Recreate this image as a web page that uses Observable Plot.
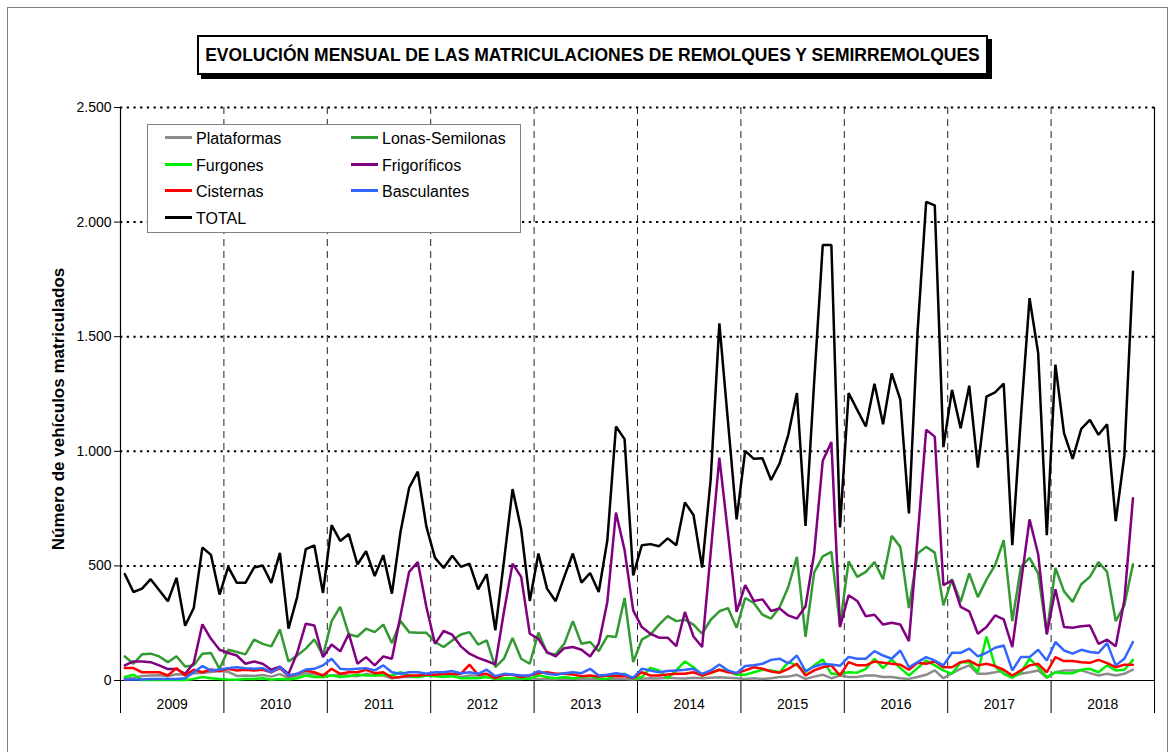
<!DOCTYPE html>
<html>
<head>
<meta charset="utf-8">
<script src="https://cdn.jsdelivr.net/npm/d3@7"></script>
<script src="https://cdn.jsdelivr.net/npm/@observablehq/plot@0.6"></script>
<style>
  html, body { margin: 0; padding: 0; background: #fff; }
  body { font-family: "Liberation Sans", Arial, sans-serif; }
  #wrap { position: relative; width: 1173px; height: 752px; overflow: hidden; }
  #chart { position: absolute; left: 0; top: 0; }
  #outer { position: absolute; left: 7px; top: 7px; width: 1159px; height: 800px; border: 1px solid #7f7f7f; }
  #title { position: absolute; left: 197px; top: 35px; width: 787px; height: 36px; border: 2px solid #000;
           background: #fff; box-shadow: 4px 4px 0 #000; font-weight: bold; font-size: 17.5px;
           display: flex; align-items: center; justify-content: center; color: #000; }
  #legend { position: absolute; left: 147px; top: 124px; width: 372px; height: 107px; border: 1px solid #808080; background: #fff; }
  .item { position: absolute; font-size: 16px; color: #000; line-height: 16px; white-space: nowrap; }
  .sw { display: inline-block; width: 27px; height: 3px; vertical-align: middle; margin-right: 4px; position: relative; top: -2px; }
</style>
</head>
<body>
<div id="wrap">
  <div id="chart"></div>
  <div id="outer"></div>
  <div id="title">EVOLUCIÓN MENSUAL DE LAS MATRICULACIONES DE REMOLQUES Y SEMIRREMOLQUES</div>
  <div id="legend"></div>
</div>
<script>
const years = ["2009","2010","2011","2012","2013","2014","2015","2016","2017","2018"];
const yTicks = [0, 500, 1000, 1500, 2000, 2500];

const plataformas = [
  7,12,20,22,23,19,27,25,32,33,37,41,
  38,20,22,20,24,17,28,10,22,32,27,22,
  22,25,22,19,29,22,22,10,15,15,15,22,
  22,19,22,15,22,22,15,7,7,7,7,10,
  7,5,5,8,6,5,7,5,6,8,6,4,
  8,10,9,12,10,9,12,10,12,14,12,10,
  7,10,7,10,15,17,25,7,17,25,10,22,
  15,15,22,22,15,15,10,7,15,25,44,10,
  32,51,66,29,29,36,44,17,29,36,44,12,
  36,44,44,44,32,22,29,22,29,47
];
const lonas = [
  105,73,114,117,105,80,106,61,66,117,120,51,
  134,124,114,178,160,149,222,83,109,139,179,109,
  259,321,201,192,226,211,244,163,259,211,208,208,
  168,146,175,201,211,157,175,58,95,185,95,73,
  209,120,114,160,259,160,168,128,194,190,360,80,
  178,200,244,281,259,265,244,204,265,302,316,230,
  360,338,287,270,321,408,539,190,471,542,561,240,
  520,452,474,517,442,631,583,316,554,583,558,328,
  442,343,467,364,440,503,612,259,496,535,467,204,
  491,389,343,420,452,517,474,259,328,507
];
const furgones = [
  15,25,2,2,2,2,2,2,7,15,10,7,
  4,3,7,7,10,3,7,4,10,22,15,15,
  22,15,19,25,22,22,25,22,36,19,15,22,
  19,15,19,10,10,10,15,7,10,10,10,7,
  22,15,10,15,10,15,19,10,7,22,29,7,
  15,55,44,10,44,83,58,22,32,47,41,25,
  25,36,47,44,36,80,66,36,66,92,29,29,
  36,34,51,95,54,92,54,22,54,87,66,44,
  29,80,80,36,192,61,29,12,36,95,58,15,
  36,32,32,47,51,36,66,44,47,90
];
const frigorificos = [
  66,83,83,80,66,50,50,29,76,245,182,134,
  120,109,73,83,73,47,60,29,120,248,240,102,
  157,127,204,73,102,66,105,95,285,474,517,321,
  160,216,200,149,117,99,85,70,300,510,452,204,
  182,124,105,141,146,134,105,160,343,733,569,306,
  233,204,187,187,150,299,192,146,560,972,642,299,
  416,347,354,303,314,284,270,324,554,959,1040,233,
  372,347,280,287,244,252,244,172,620,1094,1064,416,
  437,321,302,204,233,284,267,146,425,703,551,201,
  398,233,230,237,240,160,178,149,350,795
];
const cisternas = [
  54,54,36,36,36,22,54,22,47,36,48,41,
  51,44,47,44,47,36,54,19,29,44,36,22,
  51,29,36,36,47,32,36,12,15,22,22,25,
  25,29,29,29,69,25,29,10,25,25,15,22,
  32,36,29,29,26,19,22,17,22,19,19,10,
  36,22,22,26,29,29,36,22,34,47,36,32,
  44,58,51,39,34,51,73,22,44,58,66,22,
  80,66,66,83,77,73,69,47,77,73,83,58,
  58,80,87,66,73,63,47,22,44,66,73,36,
  102,85,85,80,77,90,76,58,69,69
];
const basculantes = [
  4,4,4,7,7,7,7,10,36,63,44,48,
  54,58,54,51,54,36,58,22,29,48,51,66,
  95,51,48,51,54,44,66,36,29,36,36,29,
  36,36,41,32,36,29,47,19,29,26,22,22,
  41,29,25,32,36,32,51,22,25,32,26,12,
  51,44,36,41,44,47,51,29,44,70,44,32,
  63,67,73,90,95,75,109,41,60,72,70,64,
  103,95,95,128,109,95,131,58,80,102,87,66,
  121,121,139,105,121,143,153,44,102,102,134,87,
  168,131,117,134,124,120,163,66,95,168
];
const total = [
  464,386,401,442,394,346,448,239,316,580,548,375,
  496,426,426,493,502,426,557,226,364,573,589,382,
  678,609,639,506,564,456,547,379,649,841,911,671,
  535,491,544,496,510,398,464,219,520,835,660,347,
  554,401,346,452,554,427,469,386,612,1108,1053,459,
  590,595,586,620,590,777,722,493,880,1558,1130,703,
  1002,967,970,875,948,1072,1254,674,1300,1900,1900,668,
  1254,1181,1108,1295,1118,1340,1225,729,1520,2088,2073,1018,
  1268,1101,1286,929,1239,1257,1295,590,1150,1668,1429,634,
  1378,1079,967,1098,1137,1072,1118,695,980,1783
];

const series = [
  {name: "Plataformas", values: plataformas, color: "#8c8c8c"},
  {name: "Lonas-Semilonas", values: lonas, color: "#339933"},
  {name: "Furgones", values: furgones, color: "#00ee00"},
  {name: "Frigoríficos", values: frigorificos, color: "#800080"},
  {name: "Cisternas", values: cisternas, color: "#ff0000"},
  {name: "Basculantes", values: basculantes, color: "#3366ff"},
  {name: "TOTAL", values: total, color: "#000000"}
];

const nMonths = years.length * 12;
const yearBounds = d3.range(0, years.length + 1).map(k => k * 12);
const innerBounds = yearBounds.slice(1, -1);
const yearMids = years.map((y, k) => k * 12 + 6);
const fmt = d3.formatLocale({decimal: ",", thousands: ".", grouping: [3], currency: ["", "€"]}).format(",");
const FONT = "Liberation Sans, Arial, sans-serif";

const chart = Plot.plot({
  width: 1173,
  height: 752,
  marginLeft: 120,
  marginRight: 19,
  marginTop: 107,
  marginBottom: 72,
  style: {fontFamily: FONT, color: "#000", background: "transparent"},
  x: {domain: [0, nMonths], axis: null},
  y: {domain: [0, 2500], axis: null},
  marks: [
    Plot.ruleY(yTicks.slice(1), {stroke: "#000", strokeWidth: 2, strokeDasharray: "2.3,4.4"}),
    Plot.ruleX(innerBounds, {stroke: "#222", strokeWidth: 1, strokeDasharray: "7,5"}),
    Plot.ruleX([0, nMonths], {stroke: "#000", strokeWidth: 1.2}),
    Plot.ruleY([0], {stroke: "#000", strokeWidth: 1.2}),
    Plot.axisY(yTicks, {tickSize: 6, tickPadding: 3, tickFormat: fmt, fontSize: 14, fontFamily: FONT, stroke: "#000"}),
    Plot.axisX(yearBounds, {tickSize: 33, tickFormat: () => "", stroke: "#000"}),
    Plot.axisX(yearMids, {tickSize: 0, tickPadding: 19, tickFormat: (d, i) => years[i], fontSize: 14, fontFamily: FONT}),
    Plot.text(["Número de vehículos matriculados"], {frameAnchor: "left", textAnchor: "middle", rotate: -90, dx: -62, dy: 15, fontWeight: "bold", fontSize: 17, fontFamily: FONT, fill: "#000"}),
    ...series.map(s => Plot.lineY(s.values, {x: (d, i) => i + 0.5, y: d => d, stroke: s.color, strokeWidth: 2.5, strokeLinejoin: "miter"}))
  ]
});
document.getElementById("chart").appendChild(chart);

// legend (row-wise, two columns)
const legend = document.getElementById("legend");
const order = ["Plataformas", "Lonas-Semilonas", "Furgones", "Frigoríficos", "Cisternas", "Basculantes", "TOTAL"];
order.forEach((name, k) => {
  const s = series.find(d => d.name === name);
  const col = k % 2, row = Math.floor(k / 2);
  const el = document.createElement("div");
  el.className = "item";
  el.style.left = (col === 0 ? 17 : 203) + "px";
  el.style.top = (6 + row * 26.5) + "px";
  el.innerHTML = `<span class="sw" style="background:${s.color}"></span>${s.name}`;
  legend.appendChild(el);
});
</script>
</body>
</html>
